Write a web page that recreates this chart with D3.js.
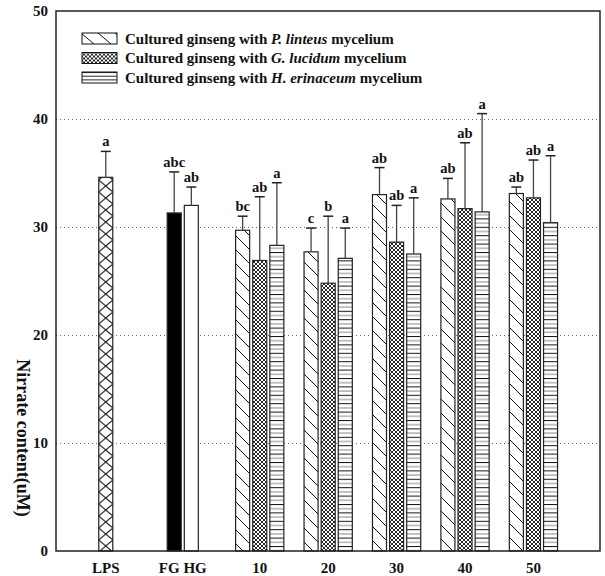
<!DOCTYPE html>
<html>
<head>
<meta charset="utf-8">
<script src="https://cdn.jsdelivr.net/npm/d3@7"></script>
<style>
    body { margin: 0; background: #fff; }
    svg text { font-family: "Liberation Serif", "Times New Roman", serif; font-weight: bold; fill: #111; }
</style>
</head>
<body>
<div id="chart"></div>
<script>
// controls
var controlNames = ['LPS', 'FG', 'HG'];
var controlValues = [34.6, 31.3, 32.0];
var controlErr = [2.4, 3.8, 1.7];
var controlLetters = ['a', 'abc', 'ab'];

// mycelium concentrations
var groups = ['10', '20', '30', '40', '50'];
var species = ['P. linteus', 'G. lucidum', 'H. erinaceum'];

var pLinteus = [29.7, 27.7, 33.0, 32.6, 33.1];
var pLinteusErr = [1.3, 2.2, 2.5, 1.9, 0.6];
var pLinteusLetters = ['bc', 'c', 'ab', 'ab', 'ab'];

var gLucidum = [26.9, 24.8, 28.6, 31.7, 32.7];
var gLucidumErr = [5.9, 6.2, 3.4, 6.1, 3.5];
var gLucidumLetters = ['ab', 'b', 'ab', 'ab', 'ab'];

var hErinaceum = [28.3, 27.1, 27.5, 31.4, 30.4];
var hErinaceumErr = [5.8, 2.8, 5.2, 9.1, 6.2];
var hErinaceumLetters = ['a', 'a', 'a', 'a', 'a'];

var yTicks = [0, 10, 20, 30, 40, 50];

var width = 605, height = 576;
var plotLeft = 56, plotRight = 600, plotTop = 11, plotBottom = 551;

var svg = d3.select('#chart').append('svg')
    .attr('width', width)
    .attr('height', height);

var defs = svg.append('defs');

// patterns
var diag = defs.append('pattern').attr('id', 'diag')
    .attr('patternUnits', 'userSpaceOnUse').attr('width', 14).attr('height', 14);
diag.append('rect').attr('width', 14).attr('height', 14).attr('fill', '#fff');
diag.append('path').attr('d', 'M0,0L14,14M-7,7L0,14M7,-7L21,7')
    .attr('stroke', '#111').attr('stroke-width', 1);

var cross = defs.append('pattern').attr('id', 'cross')
    .attr('patternUnits', 'userSpaceOnUse').attr('width', 4).attr('height', 4);
cross.append('rect').attr('width', 4).attr('height', 4).attr('fill', '#fff');
cross.append('path').attr('d', 'M0,0L4,4M4,0L0,4')
    .attr('stroke', '#111').attr('stroke-width', 0.9);

var horiz = defs.append('pattern').attr('id', 'horiz')
    .attr('patternUnits', 'userSpaceOnUse').attr('width', 8).attr('height', 8.4);
horiz.append('rect').attr('width', 8).attr('height', 8.4).attr('fill', '#fff');
horiz.append('line').attr('x1', 0).attr('x2', 8).attr('y1', 0.5).attr('y2', 0.5)
    .attr('stroke', '#111').attr('stroke-width', 1);
horiz.append('line').attr('x1', 0).attr('x2', 8).attr('y1', 4.7).attr('y2', 4.7)
    .attr('stroke', '#888').attr('stroke-width', 1);

var fills = ['url(#diag)', 'url(#cross)', 'url(#horiz)'];

// Y Axis
var y = d3.scaleLinear().domain([0, 50]).range([plotBottom, plotTop]);

// bars sit on a grid of slots, one slot per bar width + gap
var x = d3.scaleLinear().domain([-2.5, 29.3]).range([plotLeft, plotRight]);
var barW = x(0.82) - x(0);

svg.append('g').selectAll('line')
    .data(yTicks.filter(function(d) { return d > 0 && d < 50; }))
    .join('line')
    .attr('x1', plotLeft).attr('x2', plotRight)
    .attr('y1', function(d) { return Math.round(y(d)) + 0.5; })
    .attr('y2', function(d) { return Math.round(y(d)) + 0.5; })
    .attr('stroke', '#666')
    .attr('stroke-dasharray', '1,3');

var yAxis = svg.append('g')
    .attr('transform', 'translate(' + plotLeft + ',0)')
    .call(d3.axisLeft(y).tickValues(yTicks).tickSize(0).tickPadding(8));
yAxis.select('.domain').remove();
yAxis.selectAll('text').attr('font-size', 15).attr('font-family', null);

svg.append('text')
    .attr('transform', 'translate(17,438) rotate(90)')
    .attr('text-anchor', 'middle')
    .attr('font-size', 18)
    .text('Nirrate content(uM)');

// build bar list
var bars = [];
controlNames.forEach(function(name, i) {
    bars.push({
        slot: i === 0 ? 0 : 3 + i,
        value: controlValues[i],
        err: controlErr[i],
        letter: controlLetters[i],
        fill: name === 'LPS' ? 'url(#lps)' : (name === 'FG' ? '#000' : '#fff')
    });
});
var seriesVals = [pLinteus, gLucidum, hErinaceum];
var seriesErr = [pLinteusErr, gLucidumErr, hErinaceumErr];
var seriesLetters = [pLinteusLetters, gLucidumLetters, hErinaceumLetters];
groups.forEach(function(g, gi) {
    species.forEach(function(s, si) {
        bars.push({
            slot: 8 + gi * 4 + si,
            value: seriesVals[si][gi],
            err: seriesErr[si][gi],
            letter: seriesLetters[si][gi],
            fill: fills[si]
        });
    });
});

// LPS cross pattern, aligned to its bar
var lps = defs.append('pattern').attr('id', 'lps')
    .attr('patternUnits', 'userSpaceOnUse')
    .attr('x', x(0)).attr('y', 0)
    .attr('width', barW).attr('height', 12);
lps.append('rect').attr('width', barW).attr('height', 12).attr('fill', '#fff');
lps.append('path').attr('d', 'M0,0L' + barW + ',12M' + barW + ',0L0,12')
    .attr('stroke', '#111').attr('stroke-width', 1);

// Bar Area
svg.append('g').selectAll('rect')
    .data(bars)
    .join('rect')
    .attr('x', function(d) { return x(d.slot); })
    .attr('y', function(d) { return y(d.value); })
    .attr('width', barW)
    .attr('height', function(d) { return y(0) - y(d.value); })
    .attr('fill', function(d) { return d.fill; })
    .attr('stroke', '#222')
    .attr('stroke-width', 1.2);

// error bars (upper only)
var errG = svg.append('g');
errG.selectAll('line.v')
    .data(bars).join('line').attr('class', 'v')
    .attr('x1', function(d) { return x(d.slot) + barW / 2; })
    .attr('x2', function(d) { return x(d.slot) + barW / 2; })
    .attr('y1', function(d) { return y(d.value); })
    .attr('y2', function(d) { return y(d.value + d.err); })
    .attr('stroke', '#444').attr('stroke-width', 1.3);
errG.selectAll('line.cap')
    .data(bars).join('line').attr('class', 'cap')
    .attr('x1', function(d) { return x(d.slot) + barW / 2 - 5; })
    .attr('x2', function(d) { return x(d.slot) + barW / 2 + 5; })
    .attr('y1', function(d) { return y(d.value + d.err); })
    .attr('y2', function(d) { return y(d.value + d.err); })
    .attr('stroke', '#222').attr('stroke-width', 1.5);

svg.append('g').selectAll('text')
    .data(bars).join('text')
    .attr('x', function(d) { return x(d.slot) + barW / 2; })
    .attr('y', function(d) { return y(d.value + d.err) - 5; })
    .attr('text-anchor', 'middle')
    .attr('font-size', 14.5)
    .text(function(d) { return d.letter; });

// X Axis labels
var xLabels = [
    { text: 'LPS', c: 0 },
    { text: 'FG HG', c: 4.5 }
];
groups.forEach(function(g, gi) { xLabels.push({ text: g, c: 9 + gi * 4 }); });
svg.append('g').selectAll('text')
    .data(xLabels).join('text')
    .attr('x', function(d) { return x(d.c) + barW / 2; })
    .attr('y', 573)
    .attr('text-anchor', 'middle')
    .attr('font-size', 15)
    .text(function(d) { return d.text; });

// frame
svg.append('rect')
    .attr('x', plotLeft).attr('y', plotTop)
    .attr('width', plotRight - plotLeft).attr('height', plotBottom - plotTop)
    .attr('fill', 'none').attr('stroke', '#222').attr('stroke-width', 1.5);

// legend
var diagLeg = defs.append('pattern').attr('id', 'diagLeg')
    .attr('patternUnits', 'userSpaceOnUse').attr('x', 82).attr('width', 17).attr('height', 11);
diagLeg.append('rect').attr('width', 17).attr('height', 11).attr('fill', '#fff');
diagLeg.append('path').attr('d', 'M2,0L15,11')
    .attr('stroke', '#111').attr('stroke-width', 1);
var horizLeg = defs.append('pattern').attr('id', 'horizLeg')
    .attr('patternUnits', 'userSpaceOnUse').attr('width', 8).attr('height', 3.7);
horizLeg.append('rect').attr('width', 8).attr('height', 3.7).attr('fill', '#fff');
horizLeg.append('line').attr('x1', 0).attr('x2', 8).attr('y1', 0.5).attr('y2', 0.5)
    .attr('stroke', '#222').attr('stroke-width', 1);

var legendFills = ['url(#diagLeg)', 'url(#cross)', 'url(#horizLeg)'];
var legend = svg.append('g').attr('transform', 'translate(82,0)');
var row = legend.selectAll('g').data(species).join('g')
    .attr('transform', function(d, i) { return 'translate(0,' + (33 + i * 19.5) + ')'; });
row.append('rect')
    .attr('width', 35).attr('height', 11)
    .attr('fill', function(d, i) { return legendFills[i]; })
    .attr('stroke', '#111').attr('stroke-width', 1);
var lt = row.append('text')
    .attr('x', 43).attr('y', 10.5)
    .attr('font-size', 15);
lt.append('tspan').text('Cultured ginseng with ');
lt.append('tspan').attr('font-style', 'italic').text(function(d) { return d; });
lt.append('tspan').text(' mycelium');
</script>
</body>
</html>
